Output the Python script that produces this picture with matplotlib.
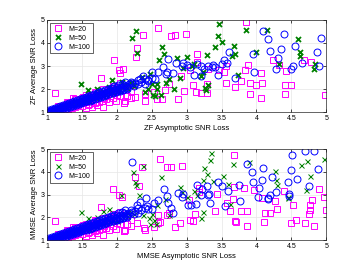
import numpy as np
import matplotlib.pyplot as plt

# shared dense band near the diagonal
band20 = [(1.02, 1.01), (1.05, 1.03), (1.08, 1.06), (1.1, 1.05), (1.12, 1.1), (1.15, 1.12),
          (1.18, 1.14), (1.2, 1.2), (1.22, 1.15), (1.25, 1.23), (1.28, 1.2), (1.3, 1.1),
          (1.32, 1.3), (1.36, 1.17), (1.37, 1.59), (1.38, 1.35), (1.4, 1.28), (1.44, 1.29),
          (1.45, 1.4), (1.48, 1.5), (1.5, 1.38), (1.52, 1.65), (1.55, 1.45), (1.56, 1.19),
          (1.58, 1.5), (1.6, 1.35), (1.62, 1.6), (1.65, 1.22), (1.68, 1.55), (1.7, 1.42),
          (1.72, 1.3), (1.74, 1.7), (1.76, 1.81), (1.78, 1.5), (1.8, 1.23), (1.82, 1.62),
          (1.85, 1.75), (1.87, 1.92), (1.88, 1.45), (1.9, 1.7), (1.95, 1.85), (1.98, 1.49),
          (2.0, 1.75), (2.05, 1.95), (2.1, 1.38), (2.11, 1.46), (2.15, 1.7), (2.2, 1.9),
          (1.25, 1.3), (1.35, 1.42), (1.42, 1.55), (1.6, 1.7), (1.66, 1.75), (1.9, 2.0),
          (2.0, 2.1), (1.3, 1.4), (1.5, 1.6), (1.7, 1.85),
          (1.1, 1.0), (1.2, 1.06), (1.3, 1.13), (1.4, 1.2), (1.5, 1.27), (1.58, 1.3),
          (1.68, 1.38), (1.75, 1.45), (1.85, 1.55), (1.95, 1.62), (2.05, 1.7),
          (1.15, 1.28), (1.28, 1.42), (1.4, 1.56), (1.55, 1.72), (1.68, 1.86),
          (1.8, 1.98), (1.95, 2.15), (2.05, 2.25)]
band50 = [(1.05, 1.05), (1.1, 1.1), (1.15, 1.14), (1.2, 1.2), (1.25, 1.23), (1.3, 1.3),
          (1.35, 1.33), (1.4, 1.42), (1.45, 1.43), (1.5, 1.52), (1.55, 1.5), (1.6, 1.65),
          (1.65, 1.62), (1.7, 1.72), (1.75, 1.7), (1.8, 1.85), (1.85, 1.8), (1.9, 1.95),
          (1.95, 1.88), (2.0, 2.05), (2.05, 1.95), (2.1, 2.15), (2.15, 2.05), (2.2, 2.25),
          (2.25, 2.15), (1.6, 1.5), (1.7, 1.6), (1.8, 1.7), (1.9, 1.8), (2.0, 1.85)]
band100 = [(1.0, 1.0), (1.02, 1.02), (1.04, 1.03), (1.06, 1.05), (1.08, 1.07), (1.1, 1.09),
           (1.12, 1.1), (1.14, 1.13), (1.16, 1.15), (1.18, 1.16), (1.2, 1.18), (1.22, 1.21),
           (1.24, 1.22), (1.26, 1.25), (1.28, 1.27), (1.3, 1.28), (1.32, 1.31), (1.34, 1.33),
           (1.36, 1.35), (1.38, 1.37), (1.4, 1.4), (1.42, 1.41), (1.44, 1.44), (1.46, 1.45),
           (1.48, 1.48), (1.5, 1.5), (1.52, 1.52), (1.54, 1.53), (1.56, 1.56), (1.58, 1.58),
           (1.6, 1.6), (1.62, 1.62), (1.64, 1.64), (1.66, 1.66), (1.68, 1.68), (1.7, 1.7),
           (1.72, 1.72), (1.74, 1.74), (1.76, 1.76), (1.78, 1.78), (1.8, 1.8), (1.83, 1.83),
           (1.86, 1.86), (1.89, 1.9), (1.92, 1.92), (1.95, 1.95), (1.98, 1.98), (2.01, 2.02),
           (2.05, 2.05), (2.08, 2.1), (2.12, 2.12), (2.15, 2.15), (2.18, 2.2), (2.22, 2.25),
           (2.26, 2.28), (1.1, 1.12), (1.15, 1.1), (1.2, 1.22), (1.25, 1.2), (1.3, 1.33),
           (1.35, 1.3), (1.4, 1.45), (1.45, 1.4), (1.5, 1.55), (1.55, 1.5), (1.6, 1.65),
           (1.65, 1.58), (1.7, 1.75), (1.75, 1.68), (1.8, 1.86), (1.85, 1.78), (1.9, 1.97),
           (1.95, 1.88), (2.0, 2.08), (2.05, 1.95), (2.1, 2.18), (2.15, 2.05), (2.2, 2.32),
           (2.25, 2.15), (2.3, 2.4), (2.35, 2.3), (2.4, 2.42), (2.45, 2.35), (2.3, 2.2),
           (1.95, 2.05), (2.0, 1.9), (2.1, 2.0),
           (1.03, 1.08), (1.07, 1.13), (1.11, 1.18), (1.15, 1.22), (1.19, 1.27), (1.23, 1.31),
           (1.27, 1.36), (1.31, 1.4), (1.35, 1.45), (1.39, 1.49), (1.43, 1.53), (1.47, 1.58),
           (1.51, 1.62), (1.55, 1.66), (1.59, 1.71), (1.63, 1.75), (1.67, 1.79), (1.71, 1.84),
           (1.75, 1.88), (1.79, 1.92), (1.83, 1.96), (1.87, 2.01), (1.91, 2.06), (1.96, 2.12),
           (2.02, 2.18), (2.07, 2.24), (2.12, 2.3),
           (1.05, 1.0), (1.09, 1.03), (1.13, 1.06), (1.17, 1.09), (1.21, 1.12), (1.25, 1.15),
           (1.29, 1.19), (1.33, 1.23), (1.37, 1.26), (1.41, 1.3), (1.45, 1.34), (1.49, 1.38),
           (1.53, 1.42), (1.57, 1.46), (1.61, 1.5), (1.65, 1.54), (1.69, 1.58), (1.73, 1.62),
           (1.77, 1.66), (1.81, 1.7), (1.85, 1.74), (1.89, 1.78), (1.94, 1.83), (1.99, 1.88),
           (2.04, 1.92), (2.09, 1.97), (2.14, 2.02)]

# ZF panel scattered points
zf20 = [(3.85, 4.90), (2.59, 4.64), (2.37, 4.34), (2.77, 4.31), (2.83, 4.34), (2.99, 4.39),
        (2.29, 3.80), (2.27, 3.41), (1.96, 3.24), (2.03, 2.83), (2.09, 2.86), (2.05, 2.69),
        (1.77, 2.46), (1.11, 1.84), (3.15, 3.53), (3.15, 3.19), (3.05, 2.83), (2.92, 2.57),
        (3.31, 2.88), (3.47, 2.82), (3.56, 2.27), (3.57, 2.98), (3.53, 2.72), (3.78, 2.37),
        (3.70, 2.10), (3.88, 3.04), (3.84, 2.83), (3.91, 1.77), (3.91, 2.26), (4.0, 2.16),
        (4.08, 2.27), (4.06, 2.69), (4.07, 1.61), (4.24, 3.25), (4.32, 3.05), (4.43, 2.80),
        (4.68, 3.28), (4.78, 3.17), (4.98, 1.75), (4.50, 2.17), (4.41, 2.17), (4.41, 1.78),
        (3.29, 2.20), (3.29, 1.81), (2.88, 1.55), (2.65, 1.56), (2.53, 1.88), (2.58, 1.56),
        (2.96, 1.91), (3.09, 2.16), (3.14, 1.88), (3.21, 1.84), (2.75, 2.23), (2.69, 1.94),
        (2.40, 1.78), (2.40, 1.49), (2.26, 1.65), (2.10, 1.40), (2.2, 1.6)]
zf50 = [(2.27, 4.54), (2.22, 4.23), (2.29, 3.56), (2.65, 3.84), (2.68, 3.53), (2.60, 3.27),
        (2.86, 3.34), (3.00, 3.37), (3.08, 3.0), (2.91, 2.46), (2.82, 2.00), (2.70, 2.26),
        (2.57, 2.01), (2.52, 1.72), (2.55, 1.68), (2.58, 2.21), (2.50, 2.21), (2.47, 2.65),
        (2.36, 2.52), (2.22, 2.29), (2.13, 2.15), (2.08, 2.3), (1.93, 2.40), (1.71, 2.0),
        (1.58, 1.95), (1.46, 1.46), (1.49, 2.23), (1.88, 2.1), (2.02, 1.9), (2.4, 1.85),
        (2.45, 2.0), (2.63, 1.75), (2.75, 2.45), (2.95, 2.9), (3.1, 3.1),
        (3.47, 4.83), (3.85, 4.57), (4.15, 4.55), (3.45, 4.31), (3.51, 4.03), (3.40, 3.82),
        (3.68, 3.89), (3.29, 3.50), (3.70, 3.51), (3.65, 3.44), (4.0, 3.63), (4.59, 4.16),
        (4.62, 3.60), (4.62, 3.45), (4.33, 3.09), (4.84, 3.08), (4.83, 2.86), (3.73, 2.59),
        (3.23, 2.73), (3.30, 2.18), (3.27, 2.04), (3.28, 1.97), (3.21, 2.58)]
zf100 = [(4.09, 4.54), (4.17, 4.19), (4.39, 4.39), (4.19, 3.66), (4.35, 3.76), (3.95, 3.51),
         (4.31, 3.34), (4.28, 2.88), (4.56, 3.89), (4.92, 4.21), (4.87, 3.63), (4.65, 3.12),
         (4.53, 3.02), (4.50, 2.85), (4.90, 2.98), (3.96, 2.72), (3.70, 2.50), (3.60, 3.61),
         (3.58, 3.14), (3.45, 2.62), (3.53, 3.27), (3.38, 3.05), (3.36, 2.95), (3.21, 2.99),
         (3.10, 2.62), (2.95, 3.14), (2.93, 2.99), (2.73, 3.31), (2.72, 2.72), (2.66, 2.94),
         (2.59, 2.72), (2.51, 2.76), (2.50, 2.5), (2.45, 2.4), (2.38, 2.55), (2.33, 2.45),
         (3.0, 3.05), (3.05, 2.95), (3.15, 3.1), (3.3, 3.0), (3.25, 2.85), (2.85, 3.15),
         (2.8, 2.7), (3.4, 2.95), (3.5, 3.1), (2.55, 2.45), (2.4, 2.2), (2.7, 2.65), (3.2, 2.55)]

# MMSE panel scattered points
mm20 = [(3.68, 4.74), (2.62, 4.56), (2.72, 4.20), (2.78, 4.22), (2.93, 4.26), (2.36, 4.23),
        (2.26, 3.76), (2.31, 3.39), (1.95, 3.25), (2.03, 2.99), (2.07, 2.87), (1.11, 1.84),
        (1.77, 2.45), (3.18, 3.28), (3.17, 3.10), (3.03, 2.78), (3.44, 3.03), (3.66, 2.80),
        (3.58, 2.62), (3.68, 3.32), (3.82, 3.30), (3.41, 2.26), (3.62, 2.26), (3.78, 2.26),
        (3.87, 2.26), (3.70, 1.85), (3.71, 1.80), (3.86, 1.60), (3.12, 2.15), (3.05, 1.86),
        (3.09, 1.84), (2.90, 1.73), (2.83, 1.58), (2.62, 1.79), (2.59, 2.12), (2.53, 1.57),
        (2.39, 1.52), (2.29, 1.76), (2.59, 1.75), (2.72, 2.12), (3.97, 3.20), (4.08, 2.85),
        (4.12, 2.20), (4.19, 2.20), (4.11, 1.79), (4.30, 2.35), (4.39, 3.16), (4.53, 2.55),
        (4.49, 1.73), (4.57, 1.89), (4.69, 1.76), (4.82, 1.63), (4.76, 2.14), (4.77, 2.34),
        (4.77, 2.55), (4.79, 2.77), (4.90, 3.23), (4.97, 2.87), (5.0, 2.34), (4.27, 2.72),
        (2.10, 1.40), (2.40, 1.45), (2.2, 1.6), (2.75, 2.2)]
mm50 = [(3.35, 4.82), (3.34, 4.52), (3.25, 4.15), (3.29, 3.92), (3.38, 3.61), (3.52, 3.82),
        (3.59, 3.47), (3.24, 3.66), (3.67, 4.35), (3.90, 4.45), (4.26, 4.05), (4.28, 3.62),
        (4.29, 3.41), (4.64, 4.30), (4.73, 4.49), (4.77, 3.82), (4.71, 3.20), (4.97, 4.56),
        (4.45, 2.91), (4.46, 2.84), (3.15, 2.98), (3.20, 1.99), (3.23, 2.22), (3.62, 2.57),
        (2.63, 3.76), (2.37, 4.26), (2.23, 4.00), (2.26, 3.53), (2.31, 2.96), (2.28, 3.42),
        (2.90, 3.31), (2.94, 3.09), (2.69, 2.81), (2.58, 2.55), (2.50, 2.14), (2.47, 1.70),
        (2.56, 1.72), (2.53, 1.90), (2.46, 1.98), (2.38, 2.10), (2.06, 3.00), (1.89, 2.38),
        (1.80, 2.26), (1.48, 2.23), (1.59, 1.96), (1.72, 2.0), (2.15, 2.2), (2.75, 2.1),
        (3.0, 2.9), (3.1, 3.15)]
mm100 = [(2.22, 4.42), (4.69, 4.92), (4.83, 4.90), (4.51, 4.74), (4.89, 4.12), (4.49, 4.09),
         (4.10, 4.15), (3.87, 4.33), (3.93, 4.01), (3.95, 3.57), (4.08, 3.66), (4.23, 3.77),
         (4.45, 3.57), (4.58, 3.67), (4.76, 3.38), (3.75, 3.42), (3.45, 3.55), (3.51, 3.39),
         (3.59, 3.16), (3.29, 3.38), (3.15, 3.43), (3.22, 3.23), (3.32, 3.01), (3.20, 2.96),
         (3.31, 2.98), (3.34, 2.62), (3.55, 2.50), (3.76, 2.71), (4.02, 2.90), (4.04, 3.28),
         (4.17, 2.84), (4.19, 2.96), (4.28, 3.10), (4.47, 3.01), (4.47, 2.95), (4.16, 2.82),
         (3.14, 2.58), (3.06, 2.55), (3.02, 2.55), (2.95, 3.03), (2.94, 2.90), (2.88, 3.05),
         (2.73, 2.62), (2.72, 2.94), (2.68, 3.25), (2.59, 2.77), (2.53, 2.62), (2.43, 2.48),
         (2.42, 2.84), (2.33, 2.65), (2.29, 2.53), (2.81, 2.2), (2.77, 2.4), (2.5, 2.35)]

panels = [
    ("ZF Asymptotic SNR Loss", "ZF Average SNR Loss", zf20, zf50, zf100, 1.3),
    ("MMSE Asymptotic SNR Loss", "MMSE Average SNR Loss", mm20, mm50, mm100, 0.7),
]

fig = plt.figure(figsize=(3.6, 2.7), dpi=100)
plt.rcParams['font.family'] = ['Liberation Sans', 'DejaVu Sans']
axes = [fig.add_axes([0.131, 0.585, 0.775, 0.341]),
        fig.add_axes([0.131, 0.111, 0.775, 0.337])]

for ax, (xl, yl, s20, s50, s100, xlw) in zip(axes, panels):
    p20 = np.array(band20 + s20)
    p50 = np.array(band50 + s50)
    p100 = np.array(band100 + s100)
    ax.plot(p20[:, 0], p20[:, 1], 's', ms=4.1, mfc='none', mec='#ff00ff', mew=0.7,
            label='M=20')
    ax.plot(p50[:, 0], p50[:, 1], 'x', ms=3.6, color='#008000', mew=xlw,
            label='M=50')
    ax.plot(p100[:, 0], p100[:, 1], 'o', ms=5.0, mfc='none', mec='#0000ff', mew=0.7,
            label='M=100')
    ax.set_xlim(1, 5)
    ax.set_ylim(1, 5)
    ax.set_xticks([1, 1.5, 2, 2.5, 3, 3.5, 4, 4.5, 5])
    ax.set_xticklabels(['1', '1.5', '2', '2.5', '3', '3.5', '4', '4.5', '5'])
    ax.set_yticks([1, 2, 3, 4, 5])
    ax.grid(True, color='#e6e6e6', lw=0.5)
    ax.set_axisbelow(True)
    ax.tick_params(direction='in', length=2, width=0.5, labelsize=5, pad=2,
                   top=True, right=True)
    for s in ax.spines.values():
        s.set_linewidth(0.5)
        s.set_color('#262626')
    ax.set_xlabel(xl, fontsize=5.5, labelpad=2)
    ax.set_ylabel(yl, fontsize=5.5, labelpad=2)
    leg = ax.legend(loc='upper left', fontsize=5, fancybox=False, framealpha=1,
                    edgecolor='#262626', borderaxespad=0.4, handlelength=1.5,
                    handletextpad=0.8, borderpad=0.4, labelspacing=0.3)
    leg.get_frame().set_linewidth(0.5)

fig.savefig("out.png", dpi=100)
